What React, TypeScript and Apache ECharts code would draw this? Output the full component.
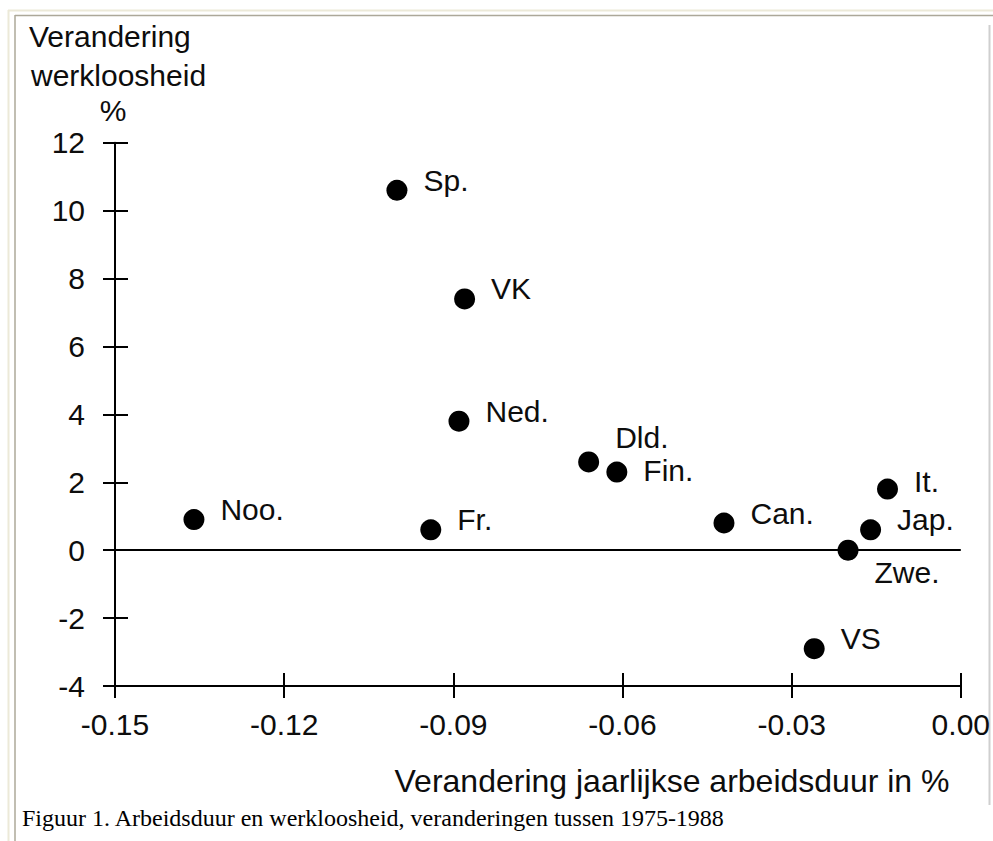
import React, { useEffect, useRef } from "react";
import * as echarts from "echarts";

// Data
const countries = ["Noo.", "Sp.", "VK", "Ned.", "Fr.", "Dld.", "Fin.", "Can.", "It.", "Jap.", "Zwe.", "VS"];
const hoursChange = [-0.136, -0.1, -0.088, -0.089, -0.094, -0.066, -0.061, -0.042, -0.013, -0.016, -0.02, -0.026];
const unemploymentChange = [0.9, 10.6, 7.4, 3.8, 0.6, 2.6, 2.3, 0.8, 1.8, 0.6, 0.0, -2.9];

const xTicks = { min: -0.15, max: 0, interval: 0.03 };
const yTicks = { min: -4, max: 12, interval: 2 };

const yTitleLines = ["Verandering", "werkloosheid", "%"];
const xTitle = "Verandering jaarlijkse arbeidsduur in %";
const caption = "Figuur 1. Arbeidsduur en werkloosheid, veranderingen tussen 1975-1988";

// label nudges (layout only)
const labelNudge: Record<string, [number, number]> = {
  "Dld.": [0, -24],
  "Fin.": [0, -2],
  "It.": [0, -8],
  "Zwe.": [0, 22],
};

const SANS = "'Liberation Sans', Arial, Helvetica, sans-serif";
const SERIF = "'Liberation Serif', 'Times New Roman', serif";
const INK = "#0d0d0d";

export default function App() {
  const ref = useRef<HTMLDivElement>(null);

  useEffect(() => {
    if (!ref.current) return;
    const chart = echarts.init(ref.current, undefined, { renderer: "svg" });

    const points = countries.map((name, i) => ({
      name,
      value: [hoursChange[i], unemploymentChange[i]],
      label: { offset: labelNudge[name] || [0, -10] },
    }));

    const axisLineStyle = { color: "#000", width: 2 };

    const option: any = {
      animation: false,
      backgroundColor: "#fff",
      grid: { left: 115, right: 31, top: 142.7, bottom: 155, containLabel: false },
      xAxis: [
        {
          type: "value",
          ...xTicks,
          position: "bottom",
          axisLine: { show: true, onZero: false, lineStyle: axisLineStyle },
          axisTick: { show: true, inside: true, length: 13, lineStyle: axisLineStyle },
          axisLabel: {
            fontSize: 30,
            color: INK,
            fontFamily: SANS,
            margin: 23,
            formatter: (v: number) => v.toFixed(2),
          },
          splitLine: { show: false },
        },
        {
          type: "value",
          ...xTicks,
          position: "bottom",
          offset: 0,
          axisLine: { show: false, onZero: false },
          axisTick: { show: true, inside: false, length: 12, lineStyle: axisLineStyle },
          axisLabel: { show: false },
          splitLine: { show: false },
        },
      ],
      yAxis: [
        {
          type: "value",
          ...yTicks,
          position: "left",
          axisLine: { show: true, onZero: false, lineStyle: axisLineStyle },
          axisTick: { show: true, inside: true, length: 13, lineStyle: axisLineStyle },
          axisLabel: { fontSize: 30, color: INK, fontFamily: SANS, margin: 30 },
          splitLine: { show: false },
        },
        {
          type: "value",
          ...yTicks,
          position: "left",
          offset: 0,
          axisLine: { show: false, onZero: false },
          axisTick: { show: true, inside: false, length: 12, lineStyle: axisLineStyle },
          axisLabel: { show: false },
          splitLine: { show: false },
        },
      ],
      series: [
        {
          type: "scatter",
          xAxisIndex: 0,
          yAxisIndex: 0,
          symbol: "circle",
          symbolSize: 21,
          itemStyle: { color: "#000", opacity: 1 },
          emphasis: { disabled: true },
          label: {
            show: true,
            position: "right",
            distance: 16,
            formatter: "{b}",
            fontSize: 30,
            color: INK,
            fontFamily: SANS,
          },
          data: points,
          markLine: {
            silent: true,
            symbol: ["none", "none"],
            label: { show: false },
            lineStyle: { color: "#000", width: 2, type: "solid", opacity: 1 },
            emphasis: { disabled: true },
            data: [{ yAxis: 0 }],
          },
          z: 3,
        },
      ],
      graphic: [
        // page frame decoration
        { type: "line", shape: { x1: 8, y1: 10.5, x2: 993, y2: 10.5 }, style: { stroke: "#ece9d8", lineWidth: 2 } },
        { type: "line", shape: { x1: 8.5, y1: 10, x2: 8.5, y2: 841 }, style: { stroke: "#ece9d8", lineWidth: 2 } },
        { type: "line", shape: { x1: 15, y1: 15.5, x2: 993, y2: 15.5 }, style: { stroke: "#aca899", lineWidth: 1.5 } },
        { type: "line", shape: { x1: 15, y1: 15, x2: 15, y2: 841 }, style: { stroke: "#aca899", lineWidth: 1.5 } },
        { type: "line", shape: { x1: 989.5, y1: 25, x2: 989.5, y2: 805 }, style: { stroke: "#cfcfcf", lineWidth: 2 } },
        // y-axis title
        {
          type: "text",
          style: { x: 29, y: 36.5, text: yTitleLines[0], font: `30px ${SANS}`, fill: INK, textAlign: "left", textVerticalAlign: "middle" },
        },
        {
          type: "text",
          style: { x: 31, y: 75, text: yTitleLines[1], font: `30px ${SANS}`, fill: INK, textAlign: "left", textVerticalAlign: "middle" },
        },
        {
          type: "text",
          style: { x: 113, y: 110, text: yTitleLines[2], font: `30px ${SANS}`, fill: INK, textAlign: "center", textVerticalAlign: "middle" },
        },
        // x-axis title
        {
          type: "text",
          style: { x: 672, y: 781, text: xTitle, font: `32px ${SANS}`, fill: INK, textAlign: "center", textVerticalAlign: "middle" },
        },
        // caption
        {
          type: "text",
          style: { x: 22, y: 818, text: caption, font: `24px ${SERIF}`, fill: "#000", textAlign: "left", textVerticalAlign: "middle" },
        },
      ],
    };

    chart.setOption(option);
    return () => chart.dispose();
  }, []);

  return (
    <div
      ref={ref}
      style={{ position: "absolute", left: 0, top: 0, width: 993, height: 841, background: "#fff" }}
    />
  );
}
